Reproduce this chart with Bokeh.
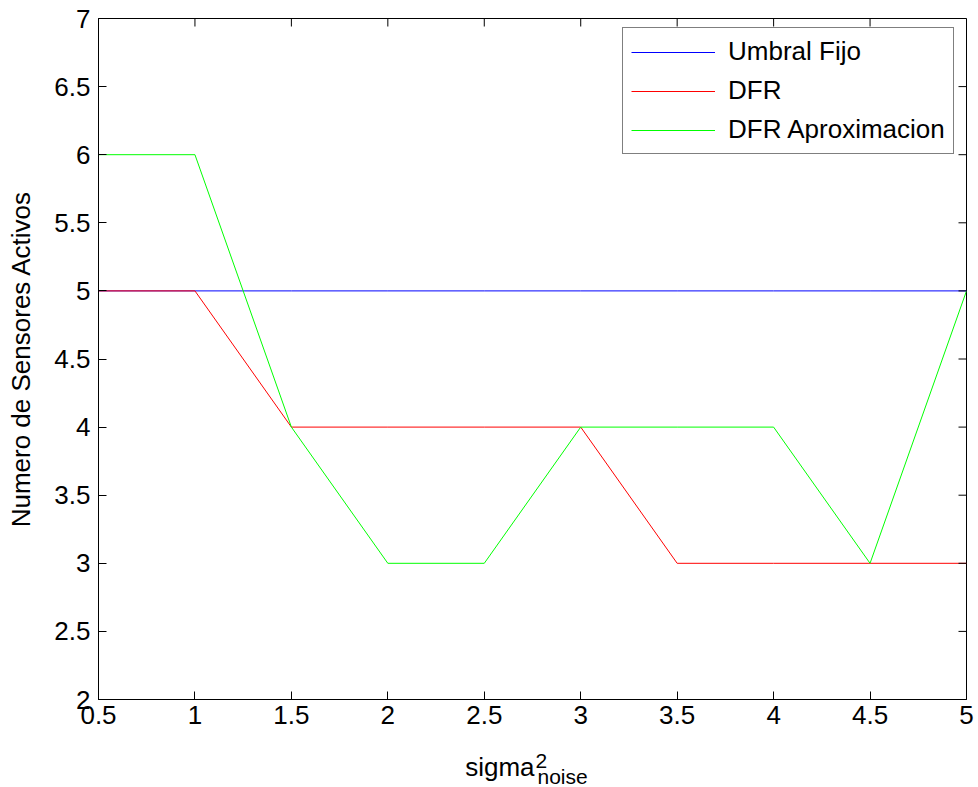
import math
from bokeh.plotting import figure
from bokeh.layouts import column
from bokeh.models import (ColumnDataSource, Range1d, FixedTicker, LinearAxis,
                          Legend, LegendItem)
from bokeh.core.properties import value
from bokeh.embed import file_html
from bokeh.resources import INLINE

# ---- data ----
sigma2 = [0.5, 1.0, 1.5, 2.0, 2.5, 3.0, 3.5, 4.0, 4.5, 5.0]
umbral_fijo = [5, 5, 5, 5, 5, 5, 5, 5, 5, 5]
dfr = [5, 5, 4, 4, 4, 4, 3, 3, 3, 3]
dfr_aprox = [6, 6, 4, 3, 3, 4, 4, 4, 3, 5]
x_ticks = [0.5, 1, 1.5, 2, 2.5, 3, 3.5, 4, 4.5, 5]
y_ticks = [2, 2.5, 3, 3.5, 4, 4.5, 5, 5.5, 6, 6.5, 7]
series_names = ["Umbral Fijo", "DFR", "DFR Aproximacion"]
series_colors = ["#0000ff", "#ff0000", "#00ff00"]
y_title = "Numero de Sensores Activos"
x_title_main, x_title_sup, x_title_sub = "sigma", "2", "noise"

FONT = "Liberation Sans"
FS = "26px"

# ---- layout constants (pixels) ----
W = 978
BORDER_L, BORDER_R, BORDER_T = 98, 12, 18
FRAME_H = 681
MAIN_H = 737
LOWER_H = 787 - MAIN_H

x0, x1 = x_ticks[0], x_ticks[-1]
y0, y1 = y_ticks[0], y_ticks[-1]

p = figure(width=W, height=MAIN_H, output_backend="svg", toolbar_location=None,
           x_range=Range1d(x0, x1), y_range=Range1d(y0, y1),
           min_border_left=BORDER_L, min_border_right=BORDER_R,
           min_border_top=BORDER_T, min_border_bottom=MAIN_H - BORDER_T - FRAME_H,
           x_axis_location=None, y_axis_location=None)
p.grid.visible = False
p.outline_line_color = "black"
p.outline_line_width = 1
p.background_fill_color = "white"
p.border_fill_color = "white"

src = ColumnDataSource(dict(x=sigma2, u=umbral_fijo, d=dfr, a=dfr_aprox))
r1 = p.line("x", "u", source=src, line_color=series_colors[0], line_width=1)
r2 = p.line("x", "d", source=src, line_color=series_colors[1], line_width=1)
r3 = p.line("x", "a", source=src, line_color=series_colors[2], line_width=1)


def style_axis(ax, ticks, standoff):
    ax.ticker = FixedTicker(ticks=ticks)
    ax.major_tick_in = 8
    ax.major_tick_out = 0
    ax.minor_tick_line_color = None
    ax.axis_line_color = "black"
    ax.major_tick_line_color = "black"
    ax.major_label_overrides = {t: f"{t:g}" for t in ticks}
    ax.major_label_text_font = FONT
    ax.major_label_text_font_size = FS
    ax.major_label_text_color = "black"
    ax.major_label_standoff = standoff


xb = LinearAxis()
style_axis(xb, x_ticks, 6)
p.add_layout(xb, "below")

yl = LinearAxis(axis_label=y_title)
style_axis(yl, y_ticks, 8)
yl.axis_label_standoff = 15
yl.axis_label_text_font = FONT
yl.axis_label_text_font_size = FS
yl.axis_label_text_font_style = "normal"
yl.axis_label_text_color = "black"
p.add_layout(yl, "left")

# inward ticks on the top and right edges of the box
TICK = 8
p.ray(x=x_ticks, y=[y1] * len(x_ticks), length=TICK, length_units="screen",
      angle=-math.pi / 2, line_color="black", line_width=1)
p.ray(x=[x1] * len(y_ticks), y=y_ticks, length=TICK, length_units="screen",
      angle=math.pi, line_color="black", line_width=1)

legend = Legend(items=[LegendItem(label=series_names[0], renderers=[r1]),
                       LegendItem(label=series_names[1], renderers=[r2]),
                       LegendItem(label=series_names[2], renderers=[r3])],
                location=(524, 545))
legend.border_line_color = "black"
legend.border_line_width = 1
legend.background_fill_alpha = 1
legend.label_text_font = FONT
legend.label_text_font_size = FS
legend.label_text_color = "black"
legend.glyph_width = 84
legend.glyph_height = 20
legend.label_height = 20
legend.label_standoff = 13
legend.spacing = 8
legend.padding = 8
legend.margin = 0
p.add_layout(legend, "center")

# ---- lower strip: x-axis title sigma^2_noise ----
q = figure(width=W, height=LOWER_H, output_backend="svg", toolbar_location=None,
           x_range=p.x_range, y_range=Range1d(0, LOWER_H),
           min_border_left=BORDER_L, min_border_right=BORDER_R,
           min_border_top=0, min_border_bottom=0,
           x_axis_location=None, y_axis_location=None)
q.grid.visible = False
q.outline_line_color = None
q.background_fill_color = "white"
q.border_fill_color = "white"

xc = (x0 + x1) / 2
q.text(x=[xc], y=[21], text=[x_title_main], x_offset=2, text_align="right",
       text_baseline="alphabetic", text_font=value(FONT),
       text_font_size=value(FS), text_color="black")
q.text(x=[xc], y=[27], text=[x_title_sup], x_offset=3, text_align="left",
       text_baseline="alphabetic", text_font=value(FONT),
       text_font_size=value("21px"), text_color="black")
q.text(x=[xc], y=[11], text=[x_title_sub], x_offset=5, text_align="left",
       text_baseline="alphabetic", text_font=value(FONT),
       text_font_size=value("21px"), text_color="black")

layout = column(p, q, spacing=0)
open("out.html", "w").write(file_html(layout, INLINE))
